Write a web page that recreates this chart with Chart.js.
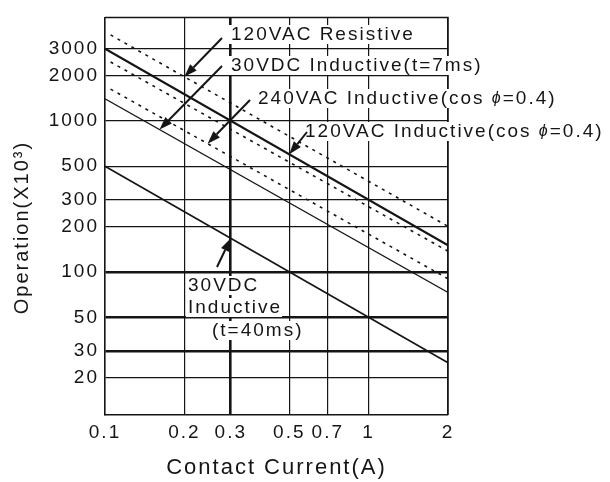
<!DOCTYPE html>
<html>
<head>
<meta charset="utf-8">
<script src="https://cdn.jsdelivr.net/npm/chart.js@4.4.0/dist/chart.umd.min.js"></script>
<style>
  html, body { margin: 0; padding: 0; background: #fff; }
</style>
</head>
<body>
<canvas id="chart" width="610" height="482"></canvas>
<script>
// axis ticks
const currentTicks = [0.1, 0.2, 0.3, 0.5, 0.7, 1, 2];
const operationTicks = [20, 30, 50, 100, 200, 300, 500, 1000, 2000, 3000];
const heavyCurrent = [0.3];
const heavyOperation = [30, 50, 100];

// contact current (A) at the two ends of each line
const solidCurrent = [0.1, 2];
const dashedCurrent = [0.105, 2];

// operations (x10^3) at those ends
const resistive120 = [3700, 200];
const unlabelledDashed = [2450, 137];
const inductive240 = [1620, 90];
const inductive120 = [3000, 150];
const dc30ms7 = [1400, 73];
const dc30ms40 = [500, 25];

const INK = "#151515";
const FONT = "'Liberation Sans', Arial, sans-serif";

const toPoints = (xs, ys) => xs.map((x, i) => ({ x, y: ys[i] }));

const datasets = [
  { data: toPoints(dashedCurrent, resistive120), borderWidth: 1.6, borderDash: [3, 5] },
  { data: toPoints(dashedCurrent, unlabelledDashed), borderWidth: 1.6, borderDash: [3, 5] },
  { data: toPoints(dashedCurrent, inductive240), borderWidth: 1.6, borderDash: [3, 5] },
  { data: toPoints(solidCurrent, inductive120), borderWidth: 2.2 },
  { data: toPoints(solidCurrent, dc30ms7), borderWidth: 1.2 },
  { data: toPoints(solidCurrent, dc30ms40), borderWidth: 1.6 },
].map((d) => Object.assign(d, {
  borderColor: INK,
  pointRadius: 0,
  fill: false,
  tension: 0,
}));

// callouts: text rows, tail of the arrow in px, tip on a series at a current
const PHI = "\u03d5";
const callouts = [
  { rows: [{ x: 231, y: 34, runs: ["120VAC Resistive"] }], tail: [222, 38], series: 0, at: 0.2 },
  { rows: [{ x: 231, y: 65, runs: ["30VDC Inductive(t=7ms)"] }], tail: [222, 66], series: 4, at: 0.161 },
  { rows: [{ x: 258, y: 98, runs: ["240VAC Inductive(cos ", { phi: PHI }, "=0.4)"] }], tail: [250, 100], series: 2, at: 0.245 },
  { rows: [{ x: 305, y: 131, runs: ["120VAC Inductive(cos ", { phi: PHI }, "=0.4)"] }], tail: [307, 132], series: 3, at: 0.5 },
  {
    rows: [
      { x: 188, y: 285, runs: ["30VDC"] },
      { x: 188, y: 307, runs: ["Inductive"] },
      { x: 212, y: 330, runs: ["(t=40ms)"] },
    ],
    tail: [217, 267], series: 5, at: 0.3,
  },
];

function valueOn(ds, x) {
  const [a, b] = ds.data;
  const t = (Math.log(x) - Math.log(a.x)) / (Math.log(b.x) - Math.log(a.x));
  return Math.exp(Math.log(a.y) + t * (Math.log(b.y) - Math.log(a.y)));
}

function drawArrow(ctx, x0, y0, x1, y1) {
  const ang = Math.atan2(y1 - y0, x1 - x0);
  const len = 13, half = 4.5;
  const bx = x1 - len * Math.cos(ang), by = y1 - len * Math.sin(ang);
  ctx.beginPath();
  ctx.moveTo(x0, y0);
  ctx.lineTo(bx, by);
  ctx.lineWidth = 2;
  ctx.stroke();
  ctx.beginPath();
  ctx.moveTo(x1, y1);
  ctx.lineTo(bx + half * Math.sin(ang), by - half * Math.cos(ang));
  ctx.lineTo(bx - half * Math.sin(ang), by + half * Math.cos(ang));
  ctx.closePath();
  ctx.fill();
}

function drawRow(ctx, row) {
  let x = row.x;
  const pieces = row.runs.map((r) => {
    const font = typeof r === "string" ? `19px ${FONT}` : `italic 16px ${FONT}`;
    ctx.font = font;
    const text = typeof r === "string" ? r : r.phi;
    return { text, font, w: ctx.measureText(text).width };
  });
  const total = pieces.reduce((s, p) => s + p.w, 0);
  ctx.fillStyle = "#fff";
  ctx.fillRect(x - 2, row.y - 9, total + 2, 19);
  ctx.fillStyle = INK;
  pieces.forEach((p) => {
    ctx.font = p.font;
    ctx.fillText(p.text, x, row.y + 1);
    x += p.w;
  });
}

const calloutPlugin = {
  id: "callouts",
  beforeDraw(chart) {
    chart.ctx.letterSpacing = "2px";
  },
  afterDatasetsDraw(chart) {
    const { ctx, chartArea: a, scales } = chart;
    ctx.save();
    ctx.strokeStyle = INK;
    ctx.lineWidth = 1.5;
    ctx.beginPath();
    ctx.moveTo(a.left, a.top);
    ctx.lineTo(a.right, a.top);
    ctx.lineTo(a.right, a.bottom);
    ctx.stroke();

    ctx.textBaseline = "middle";
    ctx.textAlign = "left";
    ctx.fillStyle = INK;
    callouts.forEach((c) => {
      c.rows.forEach((row) => drawRow(ctx, row));
      const ds = chart.data.datasets[c.series];
      const tx = scales.x.getPixelForValue(c.at);
      const ty = scales.y.getPixelForValue(valueOn(ds, c.at));
      ctx.fillStyle = INK;
      ctx.strokeStyle = INK;
      drawArrow(ctx, c.tail[0], c.tail[1], tx, ty);
    });
    ctx.restore();
  },
};

new Chart(document.getElementById("chart"), {
  type: "line",
  data: { datasets },
  plugins: [calloutPlugin],
  options: {
    responsive: false,
    animation: false,
    devicePixelRatio: 1,
    layout: { padding: { left: 0, right: 162, top: 15, bottom: 0 } },
    plugins: { legend: { display: false }, tooltip: { enabled: false } },
    scales: {
      x: {
        type: "logarithmic",
        min: 0.1,
        max: 2,
        afterBuildTicks: (s) => { s.ticks = currentTicks.map((value) => ({ value })); },
        afterFit: (s) => { s.height = 67; },
        ticks: {
          callback: (v) => String(v),
          autoSkip: false,
          maxRotation: 0,
          padding: 6,
          color: INK,
          font: { family: FONT, size: 19 },
        },
        grid: {
          color: INK,
          drawTicks: false,
          lineWidth: (c) => (heavyCurrent.includes(c.tick && c.tick.value) ? 2.6 : 1.2),
        },
        border: { color: INK, width: 1.5 },
        title: {
          display: true,
          text: "Contact Current(A)",
          color: INK,
          font: { family: FONT, size: 22 },
          padding: { bottom: 1 },
        },
      },
      y: {
        type: "logarithmic",
        min: 11.28,
        max: 4833,
        afterBuildTicks: (s) => { s.ticks = operationTicks.map((value) => ({ value })); },
        afterFit: (s) => { s.width = 105; },
        ticks: {
          callback: (v) => String(v),
          autoSkip: false,
          padding: 6,
          color: INK,
          font: { family: FONT, size: 19 },
        },
        grid: {
          color: INK,
          drawTicks: false,
          lineWidth: (c) => (heavyOperation.includes(c.tick && c.tick.value) ? 2.6 : 1.2),
        },
        border: { color: INK, width: 1.5 },
        title: {
          display: true,
          // trailing spaces push the rotated title down to where the original sits
          text: "Operation(X10\u00b3)   ",
          color: INK,
          font: { family: FONT, size: 20 },
          padding: { top: 10 },
        },
      },
    },
  },
});
</script>
</body>
</html>
